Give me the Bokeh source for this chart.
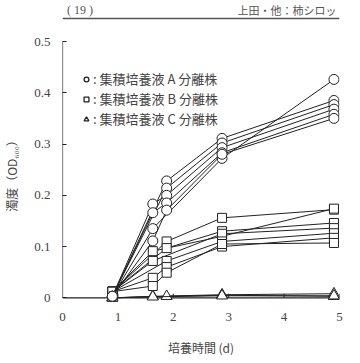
from bokeh.plotting import figure
from bokeh.layouts import column
from bokeh.models import Range1d, FixedTicker, Span, Legend, LegendItem
from bokeh.core.properties import value
from bokeh.embed import file_html
from bokeh.resources import INLINE

# ---------------- data ----------------
x_ticks = [0, 1, 2, 3, 4, 5]
y_ticks = [0, 0.1, 0.2, 0.3, 0.4, 0.5]
y_tick_labels = {0: "0", 0.1: "0.1", 0.2: "0.2", 0.3: "0.3", 0.4: "0.4", 0.5: "0.5"}

# series A (circles)
A1_t = [0.9, 1.63, 2.88, 4.9];        A1_y = [0.003, 0.135, 0.272, 0.426]
A2_t = [0.9, 1.88, 2.88, 4.9];        A2_y = [0.003, 0.228, 0.311, 0.385]
A3_t = [0.9, 1.88, 2.88, 4.9];        A3_y = [0.003, 0.214, 0.302, 0.377]
A4_t = [0.9, 1.63, 1.88, 2.88, 4.9];  A4_y = [0.003, 0.183, 0.200, 0.293, 0.368]
A5_t = [0.9, 1.63, 1.88, 2.88, 4.9];  A5_y = [0.003, 0.166, 0.185, 0.283, 0.358]
A6_t = [0.9, 1.63, 1.88, 2.88, 4.9];  A6_y = [0.003, 0.111, 0.171, 0.280, 0.350]

# series B (squares)
B1_t = [0.9, 1.88, 2.88, 4.9];        B1_y = [0.012, 0.110, 0.156, 0.172]
B2_t = [0.9, 1.63, 2.88, 4.9];        B2_y = [0.012, 0.091, 0.120, 0.174]
B3_t = [0.9, 1.88, 2.88, 4.9];        B3_y = [0.012, 0.097, 0.130, 0.146]
B4_t = [0.9, 1.63, 2.88, 4.9];        B4_y = [0.012, 0.072, 0.125, 0.136]
B5_t = [0.9, 1.88, 2.88, 4.9];        B5_y = [0.012, 0.072, 0.110, 0.126]
B6_t = [0.9, 1.63, 1.88, 2.88, 4.9];  B6_y = [0.012, 0.039, 0.060, 0.100, 0.117]
B7_t = [0.9, 1.63, 1.88, 2.88, 4.9];  B7_y = [0.012, 0.023, 0.049, 0.105, 0.107]

# series C (triangles)
C1_t = [0.9, 1.63, 2.88, 4.9];        C1_y = [0.0, 0.003, 0.006, 0.008]
C2_t = [0.9, 1.88, 2.88, 4.9];        C2_y = [0.0, 0.003, 0.005, 0.003]
C3_t = [0.9, 1.63, 2.88, 4.9];        C3_y = [0.0, 0.002, 0.004, 0.004]

legend_labels = [": 集積培養液 A 分離株", ": 集積培養液 B 分離株", ": 集積培養液 C 分離株"]
x_label = "培養時間 (d)"
y_label = "濁度（OD₆₀₀）"
header_left = "(  19  )"
header_right = "上田・他：柿シロッ"

# ---------------- style ----------------
INK = "#222222"
TXT = "#444444"
NUM_FONT = "'Liberation Serif', 'Noto Sans CJK JP'"
JP_FONT = "'Noto Sans CJK JP'"

# ---------------- header ----------------
h = figure(width=360, height=22, x_range=Range1d(0, 360), y_range=Range1d(22, 0),
           output_backend="svg", toolbar_location=None,
           min_border=0, min_border_left=0, min_border_right=0,
           min_border_top=0, min_border_bottom=0)
h.axis.visible = False
h.grid.visible = False
h.outline_line_color = None
h.text(x=[6], y=[9], text=[header_left], text_font=value(NUM_FONT),
       text_font_size="12px", text_color="#555555", text_baseline="middle")
h.text(x=[356], y=[9], text=[header_right], text_font=value(JP_FONT),
       text_font_size="11px", text_color="#555555", text_baseline="middle",
       text_align="right")
h.add_layout(Span(location=18, dimension="width", line_color="#555555", line_width=1.5))

# ---------------- main ----------------
p = figure(width=360, height=341, x_range=Range1d(0, 5), y_range=Range1d(-0.013, 0.5),
           output_backend="svg", toolbar_location=None,
           min_border_left=62, min_border_right=21, min_border_top=19, min_border_bottom=59)
p.grid.visible = False
p.outline_line_color = None
p.background_fill_color = "white"

# axes
p.yaxis.ticker = FixedTicker(ticks=y_ticks)
p.yaxis.major_label_overrides = y_tick_labels
p.yaxis.major_tick_in = 4
p.yaxis.major_tick_out = 0
p.yaxis.minor_tick_line_color = None
p.yaxis.axis_line_color = None
p.yaxis.major_tick_line_color = INK
p.yaxis.major_label_standoff = 12
p.yaxis.axis_label = y_label
p.yaxis.axis_label_standoff = 11
p.yaxis.axis_label_text_font = JP_FONT
p.yaxis.axis_label_text_font_style = "normal"
p.yaxis.axis_label_text_font_size = "12px"
p.yaxis.axis_label_text_color = TXT
p.yaxis.major_label_text_font = NUM_FONT
p.yaxis.major_label_text_font_size = "13px"
p.yaxis.major_label_text_color = TXT

p.xaxis.ticker = FixedTicker(ticks=x_ticks)
p.xaxis.major_tick_in = 0
p.xaxis.major_tick_out = 0
p.xaxis.minor_tick_line_color = None
p.xaxis.axis_line_color = None
p.xaxis.major_label_standoff = 8
p.xaxis.axis_label = x_label
p.xaxis.axis_label_standoff = 15
p.xaxis.axis_label_text_font = JP_FONT
p.xaxis.axis_label_text_font_style = "normal"
p.xaxis.axis_label_text_font_size = "12px"
p.xaxis.axis_label_text_color = TXT
p.xaxis.major_label_text_font = NUM_FONT
p.xaxis.major_label_text_font_size = "13px"
p.xaxis.major_label_text_color = TXT

# axis lines (L-shaped frame from 0)
p.segment(x0=[x_ticks[0]], y0=[y_ticks[0]], x1=[x_ticks[0]], y1=[y_ticks[-1]],
          line_color=INK, line_width=1.2)
p.segment(x0=[x_ticks[0]], y0=[y_ticks[0]], x1=[x_ticks[-1]], y1=[y_ticks[0]],
          line_color=INK, line_width=1.2)
p.segment(x0=x_ticks[1:], y0=[0] * 5, x1=x_ticks[1:], y1=[0.008] * 5,
          line_color=INK, line_width=1)

def series(t, y, marker, size):
    p.line(t, y, line_color=INK, line_width=1)
    p.scatter(t, y, marker=marker, size=size, fill_color="white",
              line_color=INK, line_width=1)

for t, y in [(C1_t, C1_y), (C2_t, C2_y), (C3_t, C3_y)]:
    series(t, y, "triangle", 11)
for t, y in [(B1_t, B1_y), (B2_t, B2_y), (B3_t, B3_y), (B4_t, B4_y),
             (B5_t, B5_y), (B6_t, B6_y), (B7_t, B7_y)]:
    series(t, y, "square", 9)
for t, y in [(A1_t, A1_y), (A2_t, A2_y), (A3_t, A3_y), (A4_t, A4_y),
             (A5_t, A5_y), (A6_t, A6_y)]:
    series(t, y, "circle", 10)

# legend (key renderers hold a single off-range point so only the key shows)
nan = float("nan")
lg_c = p.scatter([nan], [nan], marker="circle", size=11, fill_color="white", line_color=INK, line_width=1.3)
lg_s = p.scatter([nan], [nan], marker="square", size=10, fill_color="white", line_color=INK, line_width=1.3)
lg_t = p.scatter([nan], [nan], marker="triangle", size=11, fill_color="white", line_color=INK, line_width=1.3)
legend = Legend(items=[LegendItem(label=legend_labels[0], renderers=[lg_c]),
                       LegendItem(label=legend_labels[1], renderers=[lg_s]),
                       LegendItem(label=legend_labels[2], renderers=[lg_t])],
                location=(18, 176), glyph_width=12, glyph_height=12, label_height=14,
                label_standoff=1, spacing=1, padding=0, margin=0,
                border_line_color=None, background_fill_alpha=0,
                label_text_font=JP_FONT, label_text_font_size="13px", label_text_color=TXT)
p.add_layout(legend)

layout = column(h, p, spacing=0)
open("out.html", "w").write(file_html(layout, INLINE))
